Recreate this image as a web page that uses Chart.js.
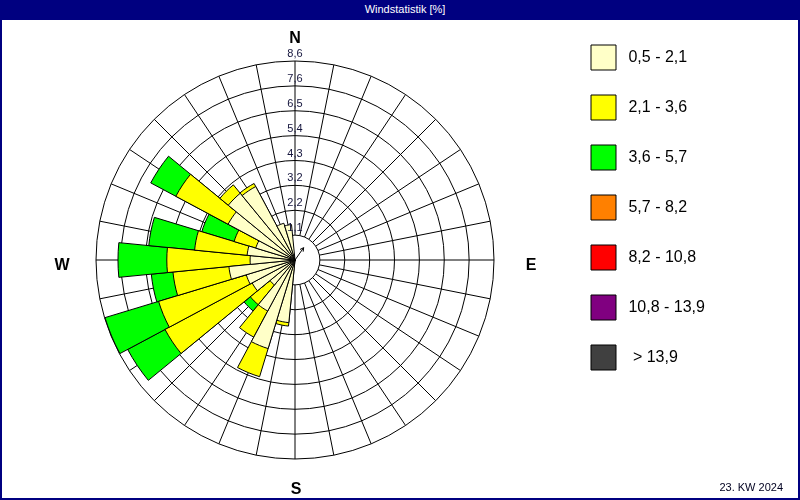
<!DOCTYPE html>
<html>
<head>
<meta charset="utf-8">
<script src="https://cdn.jsdelivr.net/npm/chart.js@4"></script>
<style>
  html, body { margin: 0; padding: 0; background: #fff; }
  #wrap { position: relative; width: 800px; height: 500px; overflow: hidden; background: #fff; }
  #c { position: absolute; left: 0; top: 0; }
  #title { position: absolute; left: 0; top: 0; width: 800px; height: 20px; background: #000080; color: #fff;
           font: 11px "Liberation Sans", Arial, sans-serif; line-height: 19px; text-align: center;
           padding-left: 10px; box-sizing: border-box; }
  #frame { position: absolute; left: 0; top: 0; width: 800px; height: 500px; border: 2px solid #000080; border-top: 0;
           box-sizing: border-box; pointer-events: none; }
  #footer { position: absolute; right: 17px; top: 481px; font: 11px "Liberation Sans", Arial, sans-serif;
            color: #000020; }
</style>
</head>
<body>
<div id="wrap">
  <canvas id="c" width="800" height="500"></canvas>
  <div id="title">Windstatistik [%]</div>
  <div id="frame"></div>
  <div id="footer">23. KW 2024</div>
</div>
<script>
// 32 wind directions (degrees clockwise from north)
const directionDeg = [0, 11.25, 22.5, 33.75, 45, 56.25, 67.5, 78.75, 90, 101.25, 112.5, 123.75, 135, 146.25, 157.5, 168.75,
                      180, 191.25, 202.5, 213.75, 225, 236.25, 247.5, 258.75, 270, 281.25, 292.5, 303.75, 315, 326.25, 337.5, 348.75];
const directionNames = ['N','NzO','NNO','NOzN','NO','NOzO','ONO','OzN','O','OzS','OSO','SOzO','SO','SOzS','SSO','SzO',
                        'S','SzW','SSW','SWzS','SW','SWzW','WSW','WzS','W','WzN','WNW','NWzW','NW','NWzN','NNW','NzW'];

// speed classes
const seriesNames = ['0,5 - 2,1', '2,1 - 3,6', '3,6 - 5,7', '5,7 - 8,2', '8,2 - 10,8', '10,8 - 13,9', '> 13,9'];
const seriesColors = ['#FFFFC8', '#FFFF00', '#00FF00', '#FF8000', '#FF0000', '#800080', '#404040'];

// frequency [%] per direction for each speed class
const s05_21 = [0,0,0,0,0,0,0,0,0,0,0,0,0,0,0,0,0, 2.72, 4.00, 2.50, 1.40, 2.10, 2.20, 2.87, 1.94, 2.08, 1.77, 3.28, 3.73, 3.60, 1.66, 1.54];
const s21_36 = [0,0,0,0,0,0,0,0,0,0,0,0,0,0,0,0,0, 0.15, 1.27, 1.28, 1.10, 4.27, 3.96, 2.43, 3.60, 2.28, 0.98, 2.56, 0.47, 0.15, 0, 0];
const s36_57 = [0,0,0,0,0,0,0,0,0,0,0,0,0,0,0,0,0, 0, 0, 0, 0.35, 1.83, 2.42, 0.94, 2.11, 1.99, 1.46, 1.23, 0, 0, 0, 0];
const s57_82 = [0,0,0,0,0,0,0,0,0,0,0,0,0,0,0,0,0,0,0,0,0,0,0,0,0,0,0,0,0,0,0,0];
const s82_108 = [0,0,0,0,0,0,0,0,0,0,0,0,0,0,0,0,0,0,0,0,0,0,0,0,0,0,0,0,0,0,0,0];
const s108_139 = [0,0,0,0,0,0,0,0,0,0,0,0,0,0,0,0,0,0,0,0,0,0,0,0,0,0,0,0,0,0,0,0];
const s139 = [0,0,0,0,0,0,0,0,0,0,0,0,0,0,0,0,0,0,0,0,0,0,0,0,0,0,0,0,0,0,0,0];

// rings / tick labels
const ringValues = [0, 1.075, 2.15, 3.225, 4.3, 5.375, 6.45, 7.525, 8.6];
const ringLabels = ['', '1,1', '2,2', '3,2', '4,3', '5,4', '6,5', '7,6', '8,6'];
const compass = [['N', 0], ['E', 90], ['S', 180], ['W', 270]];
// small direction arrow in the centre
const currentDirDeg = 35;
const currentArrowValue = 0.65;

const seriesValues = [s05_21, s21_36, s36_57, s57_82, s82_108, s108_139, s139];

// stacked (cumulative) radii; classes with no share are not drawn
const datasets = seriesValues.map((vals, d) => ({
  label: seriesNames[d],
  data: vals.map((v, k) => {
    if (!v) return null;
    let sum = 0;
    for (let j = 0; j <= d; j++) sum += seriesValues[j][k];
    return sum;
  }),
  backgroundColor: seriesColors[d],
  borderColor: '#000000',
  borderWidth: 1
}));

const rosePlugin = {
  id: 'rose',
  beforeDatasetsDraw(chart) {
    const s = chart.scales.r, ctx = chart.ctx;
    const rIn = s.getDistanceFromCenterForValue(ringValues[1]);
    const rOut = s.getDistanceFromCenterForValue(ringValues[ringValues.length - 1]);
    ctx.save();
    ctx.strokeStyle = '#000';
    ctx.lineWidth = 1;
    directionDeg.forEach(d => {
      const a = d * Math.PI / 180 - Math.PI / 2;
      ctx.beginPath();
      ctx.moveTo(s.xCenter + rIn * Math.cos(a), s.yCenter + rIn * Math.sin(a));
      ctx.lineTo(s.xCenter + rOut * Math.cos(a), s.yCenter + rOut * Math.sin(a));
      ctx.stroke();
    });
    ctx.restore();
  },
  afterDatasetsDraw(chart) {
    const s = chart.scales.r, ctx = chart.ctx;
    ctx.save();
    // centre arrow
    const a = currentDirDeg * Math.PI / 180 - Math.PI / 2;
    const L = s.getDistanceFromCenterForValue(currentArrowValue);
    const tx = s.xCenter + L * Math.cos(a), ty = s.yCenter + L * Math.sin(a);
    ctx.strokeStyle = '#000';
    ctx.lineWidth = 1;
    ctx.beginPath();
    ctx.moveTo(s.xCenter, s.yCenter);
    ctx.lineTo(tx, ty);
    const h = 4;
    ctx.moveTo(tx, ty);
    ctx.lineTo(tx - h * Math.cos(a - 0.5), ty - h * Math.sin(a - 0.5));
    ctx.moveTo(tx, ty);
    ctx.lineTo(tx - h * Math.cos(a + 0.5), ty - h * Math.sin(a + 0.5));
    ctx.stroke();

    ctx.fillStyle = '#14143c';
    ctx.font = '11px "Liberation Sans", Arial, sans-serif';
    ctx.textAlign = 'center';
    ctx.textBaseline = 'alphabetic';
    ringValues.forEach((v, i) => {
      if (!ringLabels[i]) return;
      const r = s.getDistanceFromCenterForValue(v);
      ctx.fillText(ringLabels[i], s.xCenter, s.yCenter - r - 4);
    });
    ctx.fillStyle = '#000';
    ctx.font = 'bold 16px "Liberation Sans", Arial, sans-serif';
    const R = s.drawingArea;
    compass.forEach(([t, deg]) => {
      let x = s.xCenter, y = s.yCenter;
      if (deg === 0) { y = s.yCenter - R - 18; }
      else if (deg === 180) { y = s.yCenter + R + 35; x += 1; }
      else if (deg === 90) { x = s.xCenter + R + 37; y = s.yCenter + 10; }
      else { x = s.xCenter - R - 34; y = s.yCenter + 10; }
      ctx.fillText(t, x, y);
    });
    ctx.restore();
  }
};

new Chart(document.getElementById('c'), {
  type: 'polarArea',
  data: { labels: directionNames, datasets: datasets },
  plugins: [rosePlugin],
  options: {
    responsive: false,
    animation: false,
    layout: { padding: { left: 24, top: 20, right: 34, bottom: 41 } },
    scales: {
      r: {
        min: 0,
        max: 8.6,
        startAngle: -5.625,
        afterBuildTicks: (axis) => { axis.ticks = ringValues.map(v => ({ value: v })); },
        ticks: { display: false },
        grid: { circular: true, color: '#000000', lineWidth: 1 },
        angleLines: { display: false },
        pointLabels: { display: false }
      }
    },
    plugins: {
      tooltip: { enabled: false },
      title: {
        display: true, text: '', fullSize: false, position: 'top',
        font: { size: 10, lineHeight: 1 }, padding: { top: 31, bottom: 0 }
      },
      legend: {
        position: 'right',
        align: 'start',
        fullSize: true,
        maxWidth: 200,
        onClick: null,
        labels: {
          boxWidth: 25,
          boxHeight: 25,
          padding: 25,
          color: '#000000',
          font: { size: 16, family: '"Liberation Sans", Arial, sans-serif' },
          generateLabels: () => seriesNames.map((t, i) => ({
            text: (t.startsWith('>') ? '  ' : ' ') + t,
            fillStyle: seriesColors[i],
            strokeStyle: '#000000',
            fontColor: '#000000',
            lineWidth: 1,
            hidden: false,
            datasetIndex: i
          })).concat([{
            // invisible spacer entry that fixes the legend column width
            text: ' '.repeat(60),
            fillStyle: 'rgba(0,0,0,0)',
            strokeStyle: 'rgba(0,0,0,0)',
            fontColor: 'rgba(0,0,0,0)',
            lineWidth: 0,
            hidden: false,
            datasetIndex: 7
          }])
        }
      }
    }
  }
});
</script>
</body>
</html>
